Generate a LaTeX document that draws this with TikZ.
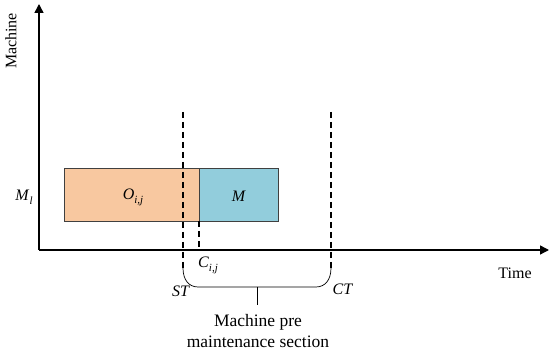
\documentclass[tikz,border=0pt]{standalone}
\usepackage{fontspec}
\setmainfont{Liberation Serif}
\usetikzlibrary{arrows.meta}
\definecolor{opcol}{HTML}{F8C8A0}
\definecolor{mcol}{HTML}{92CDDC}
\definecolor{edgecol}{HTML}{404040}
\newcommand{\sbi}[1]{\raisebox{-0.25em}{\fontsize{11}{12}\selectfont\itshape #1}}
\begin{document}
\begin{tikzpicture}[x=1pt,y=-1pt,
  axis/.style={line width=1.4pt,-{Triangle[length=9pt,width=9pt]}},
  dline/.style={line width=1.2pt,dash pattern=on 6pt off 4pt},
  thin/.style={line width=0.7pt},
  lbl/.style={inner sep=0pt,font=\fontsize{16}{18}\selectfont},
  box/.style={draw=edgecol,line width=0.8pt,inner sep=0pt}]
\useasboundingbox (0,0) rectangle (550,352);
% axes
\coordinate (O) at (39,250);
\coordinate (Ytop) at (39,4);
\coordinate (Xend) at (549,250);
\draw[axis] (O) -- (Ytop);
\draw[axis] (O) -- (Xend);
\node[lbl,rotate=90] (ylab) at (11,41) {Machine};
\node[lbl] (xlab) at (515,273) {Time};
% boxes
\node[box,fill=opcol,minimum width=135pt,minimum height=53pt] (op) at (131.5,194.5) {};
\node[box,fill=mcol,minimum width=79pt,minimum height=53pt] (mt) at (238.5,194.5) {};
\node[lbl] (oplab) at (133,197) {\textit{O}\sbi{i,j}};
\node[lbl] (mlab) at (239,196) {\textit{M}};
\node[lbl] (ml) at (24,197) {\textit{M}\sbi{l}};
% dashed lines
\coordinate (st0) at (183,112);
\coordinate (st1) at (183,268);
\coordinate (ct0) at (331,112);
\coordinate (ct1) at (331,268);
\coordinate (c0) at (199,221);
\coordinate (c1) at (199,248);
\draw[dline] (st0) -- (st1);
\draw[dline] (ct0) -- (ct1);
\draw[dline] (c0) -- (c1);
% brace
\coordinate (bl) at (198,287);
\coordinate (br) at (316,287);
\coordinate (bm) at (257,287);
\coordinate (bt) at (257,305);
\draw[thin] (st1) .. controls (183,280) and (189,287) .. (bl) -- (br)
  .. controls (325,287) and (331,280) .. (ct1);
\draw[thin] (bm) -- (bt);
\node[lbl] (cij) at (208,265) {\textit{C}\sbi{i,j}};
\node[lbl] (st) at (181,291) {\textit{ST}};
\node[lbl] (ct) at (343,289) {\textit{CT}};
\node[lbl,align=center,font=\fontsize{17.5}{21}\selectfont] (sec) at (258,331) {Machine pre\\maintenance section};
\end{tikzpicture}
\end{document}
